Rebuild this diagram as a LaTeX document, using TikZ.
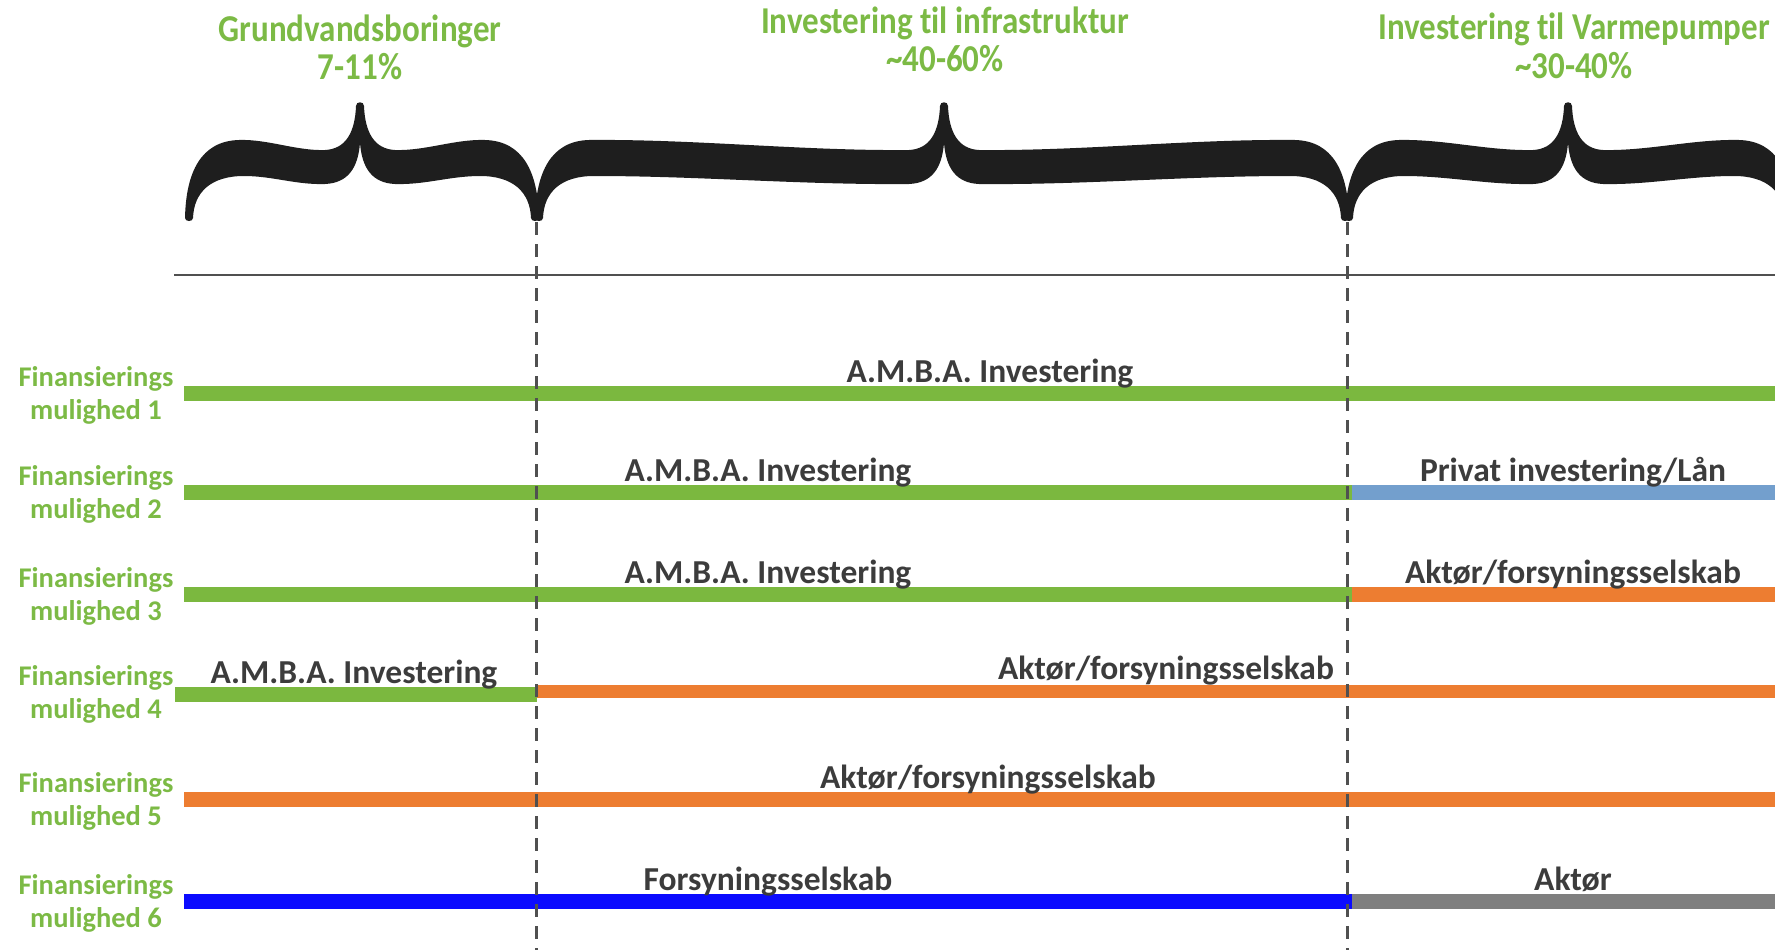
\documentclass[tikz,border=0pt]{standalone}
\usepackage{fontspec}
\setmainfont{Carlito}[Ligatures=NoCommon]
\usepackage{graphicx}

\definecolor{barGreen}{HTML}{7BB83F}
\definecolor{barOrange}{HTML}{ED7D31}
\definecolor{barSteel}{HTML}{739FCD}
\definecolor{barBlue}{HTML}{0B0BFF}
\definecolor{barGray}{HTML}{7F7F7F}
\definecolor{headGreen}{HTML}{7CBA45}
\definecolor{labelGray}{HTML}{3C3C3C}
\definecolor{ruleGray}{HTML}{505050}
\definecolor{braceBlack}{HTML}{1E1E1E}

\tikzset{
  bar/.style={line width=15pt},
  rowtext/.style={font=\fontsize{33.5}{40}\selectfont\bfseries, text=labelGray, anchor=base, inner sep=0pt},
  rowname/.style={font=\fontsize{28.5}{33}\selectfont\bfseries, text=headGreen, align=center, anchor=base, inner sep=0pt},
  headtext/.style={font=\fontsize{33}{39}\selectfont\bfseries, text=headGreen, align=center, anchor=base, inner sep=0pt},
  hrule/.style={draw=ruleGray, line width=2.8pt},
  divider/.style={draw=ruleGray, line width=3pt, dash pattern=on 13pt off 9pt},
  bracefill/.style={fill=braceBlack},
}

% keep "t" and "i" apart in "til"
\newcommand{\tilword}{t\kern0pt il}

% filled curly brace: left end, tip, right end (x positions)
\newcommand{\curlybrace}[3]{%
  \pgfmathsetmacro\brL{#1}\pgfmathsetmacro\brC{#2}\pgfmathsetmacro\brR{#3}%
  \pgfmathsetmacro\brA{(\brC-35-\brL-50)/3}%
  \pgfmathsetmacro\brB{(\brR-50-\brC-35)/3}%
  \fill[bracefill]
    (\brL-4,218) .. controls (\brL-3,172) and (\brL+12,141) .. (\brL+50,140)
    .. controls (\brL+50+\brA,139) and (\brC-35-\brA,151) .. (\brC-35,150)
    .. controls (\brC-14,149) and (\brC-5,132) .. (\brC-4,106)
    .. controls (\brC-4,101) and (\brC+4,101) .. (\brC+4,106)
    .. controls (\brC+5,132) and (\brC+14,149) .. (\brC+35,150)
    .. controls (\brC+35+\brB,151) and (\brR-50-\brB,139) .. (\brR-50,140)
    .. controls (\brR-12,141) and (\brR+3,172) .. (\brR+4,218)
    .. controls (\brR+4,222) and (\brR-4,222) .. (\brR-4,218)
    .. controls (\brR-5,192) and (\brR-22,176) .. (\brR-55,176)
    .. controls (\brR-55-\brB,176) and (\brC+35+\brB,185) .. (\brC+35,184)
    .. controls (\brC+12,183) and (\brC+2,168) .. (\brC,143)
    .. controls (\brC-2,168) and (\brC-12,183) .. (\brC-35,184)
    .. controls (\brC-35-\brA,185) and (\brL+55+\brA,176) .. (\brL+55,176)
    .. controls (\brL+22,176) and (\brL+5,192) .. (\brL+4,218)
    .. controls (\brL+4,222) and (\brL-4,222) .. (\brL-4,218) -- cycle;
}

\begin{document}
\begin{tikzpicture}[x=1pt,y=-1pt]
\useasboundingbox (0,0) rectangle (1775,950);
\clip (0,0) rectangle (1775,950);

% headings (anchor base = baseline of the last line)
\node[headtext] (hBoring) at (360,80) {\scalebox{1}[1.15]{Grundvandsboringer}\\\scalebox{1}[1.15]{7-11\%}};
\node[headtext] (hInfra) at (945,72) {\scalebox{1}[1.15]{Investering \tilword{} infrastruktur}\\\scalebox{1}[1.15]{\textasciitilde40-60\%}};
\node[headtext] (hPump) at (1574,78) {\scalebox{1}[1.15]{Investering \tilword{} Varmepumper}\\\scalebox{1}[1.15]{\textasciitilde30-40\%}};

% braces
\curlybrace{189}{360}{535}
\curlybrace{539}{944}{1345}
\curlybrace{1349}{1568}{1789}

% option names
\node[rowname] (o1) at (96,419) {Finansierings\\mulighed 1};
\node[rowname] (o2) at (96,518) {Finansierings\\mulighed 2};
\node[rowname] (o3) at (96,620) {Finansierings\\mulighed 3};
\node[rowname] (o4) at (96,718) {Finansierings\\mulighed 4};
\node[rowname] (o5) at (96,825) {Finansierings\\mulighed 5};
\node[rowname] (o6) at (96,927) {Finansierings\\mulighed 6};

% bar end points
\coordinate (a1) at (184,393);  \coordinate (z1) at (1775,393);
\coordinate (a2) at (184,492);  \coordinate (m2) at (1352,492); \coordinate (z2) at (1775,492);
\coordinate (a3) at (184,594);  \coordinate (m3) at (1352,594); \coordinate (z3) at (1775,594);
\coordinate (a4) at (175,694);  \coordinate (m4) at (537,694);
\coordinate (n4) at (537,691);  \coordinate (z4) at (1775,691);
\coordinate (a5) at (184,799);  \coordinate (z5) at (1775,799);
\coordinate (a6) at (184,901);  \coordinate (m6) at (1352,901); \coordinate (z6) at (1775,901);

% bars
\draw[bar, barGreen] (a1) -- (z1);
\draw[bar, barGreen] (a2) -- (m2);
\draw[bar, barSteel] (m2) -- (z2);
\draw[bar, barGreen] (a3) -- (m3);
\draw[bar, barOrange] (m3) -- (z3);
\draw[bar, barGreen] (a4) -- (m4);
\draw[bar, barOrange, line width=13pt] (n4) -- (z4);
\draw[bar, barOrange] (a5) -- (z5);
\draw[bar, barBlue] (a6) -- (m6);
\draw[bar, barGray] (m6) -- (z6);

% bar captions
\node[rowtext] (c1) at (990,382) {A.M.B.A. Investering};
\node[rowtext] (c2a) at (768,481) {A.M.B.A. Investering};
\node[rowtext] (c2b) at (1573,481) {Privat investering/Lån};
\node[rowtext] (c3a) at (768,583) {A.M.B.A. Investering};
\node[rowtext] (c3b) at (1573,583) {Aktør/forsyningsselskab};
\node[rowtext] (c4a) at (354,683) {A.M.B.A. Investering};
\node[rowtext] (c4b) at (1166,679) {Aktør/forsyningsselskab};
\node[rowtext] (c5) at (988,788) {Aktør/forsyningsselskab};
\node[rowtext] (c6a) at (768,890) {Forsyningsselskab};
\node[rowtext] (c6b) at (1573,890) {Aktør};

% base rule and phase dividers
\coordinate (ruleL) at (174,275); \coordinate (ruleR) at (1775,275);
\draw[hrule] (ruleL) -- (ruleR);
\coordinate (d1top) at (536,222); \coordinate (d1bot) at (536,950);
\coordinate (d2top) at (1347,222); \coordinate (d2bot) at (1347,950);
\draw[divider] (d1top) -- (d1bot);
\draw[divider] (d2top) -- (d2bot);
\end{tikzpicture}
\end{document}
